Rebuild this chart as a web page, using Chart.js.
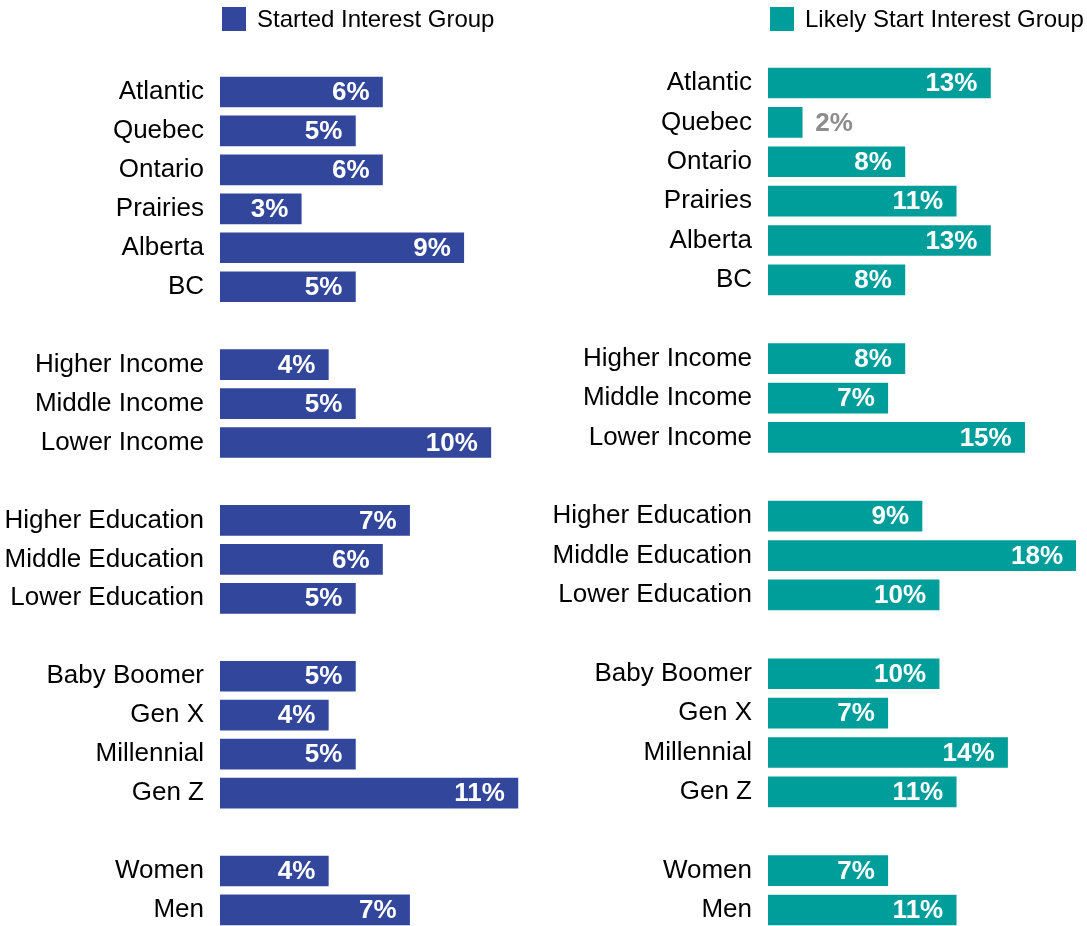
<!DOCTYPE html>
<html>
<head>
<meta charset="utf-8">
<script src="https://cdn.jsdelivr.net/npm/chart.js@4"></script>
<style>
  html, body { margin: 0; padding: 0; background: #fff; overflow: hidden; }
  #wrap { position: relative; width: 1087px; height: 926px; overflow: hidden; }
  canvas { position: absolute; top: 0; }
  #left { left: 0; }
  #right { left: 545px; }
</style>
</head>
<body>
<div id="wrap">
  <canvas id="left" width="545" height="1000"></canvas>
  <canvas id="right" width="542" height="1000"></canvas>
</div>
<script>
// rows, with empty entries used as spacers between groups
const categories = [
  'Atlantic', 'Quebec', 'Ontario', 'Prairies', 'Alberta', 'BC', '',
  'Higher Income', 'Middle Income', 'Lower Income', '',
  'Higher Education', 'Middle Education', 'Lower Education', '',
  'Baby Boomer', 'Gen X', 'Millennial', 'Gen Z', '',
  'Women', 'Men'
];
const startedValues = [6, 5, 6, 3, 9, 5, null, 4, 5, 10, null, 7, 6, 5, null, 5, 4, 5, 11, null, 4, 7];
const likelyValues = [13, 2, 8, 11, 13, 8, null, 8, 7, 15, null, 9, 18, 10, null, 10, 7, 14, 11, null, 7, 11];

const FONT = "'Liberation Sans', Arial, sans-serif";

// percentage text at the end of each bar; too-short bars get it outside in grey
const barValueLabels = {
  id: 'barValueLabels',
  afterDatasetsDraw(chart) {
    const ctx = chart.ctx;
    const meta = chart.getDatasetMeta(0);
    const values = chart.data.datasets[0].data;
    ctx.save();
    ctx.font = 'bold 26px ' + FONT;
    ctx.textBaseline = 'middle';
    meta.data.forEach((bar, i) => {
      const v = values[i];
      if (v == null) return;
      const text = v + '%';
      const w = bar.x - bar.base;
      if (w < ctx.measureText(text).width + 20) {
        ctx.fillStyle = '#8c8c8c';
        ctx.textAlign = 'left';
        ctx.fillText(text, bar.x + 13, bar.y + 1);
      } else {
        ctx.fillStyle = '#ffffff';
        ctx.textAlign = 'right';
        ctx.fillText(text, bar.x - 13, bar.y + 1);
      }
    });
    ctx.restore();
  }
};

// square swatch + series name above the bars
const topLegend = {
  id: 'topLegend',
  afterDraw(chart) {
    const ctx = chart.ctx;
    const ds = chart.data.datasets[0];
    const x = chart.chartArea.left + 2;
    ctx.save();
    ctx.fillStyle = ds.backgroundColor;
    ctx.fillRect(x, 7, 24, 24);
    ctx.fillStyle = '#000';
    ctx.font = '24px ' + FONT;
    ctx.textAlign = 'left';
    ctx.textBaseline = 'middle';
    ctx.fillText(ds.label, x + 35, 20);
    ctx.restore();
  }
};

function makeChart(id, label, values, color, axisWidth, xMax, padTop, padBottom, padRight) {
  return new Chart(document.getElementById(id), {
    type: 'bar',
    data: {
      labels: categories,
      datasets: [{
        label: label,
        data: values,
        backgroundColor: color,
        barThickness: 30
      }]
    },
    options: {
      indexAxis: 'y',
      responsive: false,
      animation: false,
      layout: { padding: { top: padTop, bottom: padBottom, left: 0, right: padRight } },
      plugins: {
        legend: { display: false },
        tooltip: { enabled: false }
      },
      scales: {
        x: {
          display: false,
          min: 0,
          max: xMax
        },
        y: {
          grid: { display: false, drawTicks: false },
          border: { display: false },
          ticks: {
            color: '#000',
            padding: 16,
            autoSkip: false,
            font: { family: FONT, size: 26 }
          },
          afterFit(scale) { scale.width = axisWidth; }
        }
      }
    },
    plugins: [barValueLabels, topLegend]
  });
}

// canvases run past the page bottom; the padding keeps the plot area where it belongs
makeChart('left', 'Started Interest Group', startedValues, '#32479b', 220, 12, 72.5, 70.6, 0);
makeChart('right', 'Likely Start Interest Group', likelyValues, '#009e9a', 223, 18, 63.3, 70.3, 11);
</script>
</body>
</html>
